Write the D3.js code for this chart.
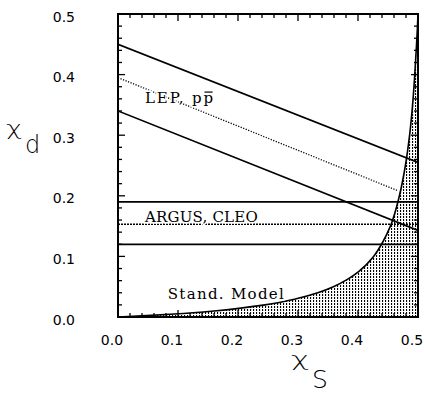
<!DOCTYPE html>
<html>
<head>
<meta charset="utf-8">
<script src="https://cdn.jsdelivr.net/npm/d3@7/dist/d3.min.js"></script>
<style>
  html, body { margin: 0; padding: 0; background: #fff; }
  svg { display: block; }
</style>
</head>
<body>
<svg id="chart" width="424" height="396"></svg>
<script>
// ---- data ----
const xTickValues = [0, 0.1, 0.2, 0.3, 0.4, 0.5];
const xTickLabels = ["0.0", "0.1", "0.2", "0.3", "0.4", "0.5"];
const yTickValues = [0, 0.1, 0.2, 0.3, 0.4, 0.5];
const yTickLabels = ["0.0", "0.1", "0.2", "0.3", "0.4", "0.5"];

// LEP, p pbar band (lines chi_d vs chi_s): start at chi_s=0, end points
const lepStartY = [0.45, 0.395, 0.34];
const lepEndX   = [0.5, 0.465, 0.5];
const lepEndY   = [0.255, 0.209, 0.143];
const lepDashed = [false, true, false];

// ARGUS, CLEO horizontal band
const argusY      = [0.19, 0.153, 0.12];
const argusDashed = [false, true, false];

// Standard Model curve
const smChiS = [0, 0.032, 0.094, 0.160, 0.245, 0.297, 0.333, 0.359, 0.383, 0.401, 0.426, 0.442, 0.454, 0.469, 0.479, 0.486, 0.491, 0.4946, 0.4976, 0.4989, 0.5];
const smChiD = [0, 0.0015, 0.005, 0.01, 0.02, 0.03, 0.04, 0.05, 0.0625, 0.075, 0.1, 0.125, 0.15, 0.2, 0.25, 0.3, 0.35, 0.4, 0.45, 0.475, 0.5];

// annotation texts and the data point where each starts
const annTexts = ["LEP, pp", "ARGUS, CLEO", "Stand. Model"];
const annChiS  = [0.045, 0.045, 0.083];
const annChiD  = [0.353, 0.157, 0.030];

// ---- layout ----
const svg = d3.select("#chart");
const L = 118, R = 418, T = 14, B = 317;
const x = d3.scaleLinear().domain([0, 0.5]).range([L, R]);
const y = d3.scaleLinear().domain([0, 0.5]).range([B, T]);

const defs = svg.append("defs");
const pat = defs.append("pattern").attr("id", "stip")
  .attr("patternUnits", "userSpaceOnUse").attr("width", 3).attr("height", 3);
pat.append("rect").attr("x", 1).attr("y", 0).attr("width", 1.1).attr("height", 2).attr("fill", "#000");

const clip = defs.append("clipPath").attr("id", "plotclip");
clip.append("rect").attr("x", L).attr("y", T).attr("width", R - L).attr("height", B - T);

const smPts = smChiS.map((s, i) => [s, smChiD[i]]);
const smLine = d3.line().x(d => x(d[0])).y(d => y(d[1])).curve(d3.curveMonotoneY);

// shaded region (right of SM curve)
svg.append("path")
  .attr("d", smLine(smPts) + `L${x(0.5)},${y(0)}L${x(0)},${y(0)}Z`)
  .attr("fill", "url(#stip)")
  .attr("clip-path", "url(#plotclip)");

const g = svg.append("g").attr("clip-path", "url(#plotclip)");

// SM curve
g.append("path")
  .attr("d", smLine(smPts))
  .attr("fill", "none").attr("stroke", "#000").attr("stroke-width", 1.6);

// LEP lines
lepStartY.forEach((y0, i) => {
  g.append("line")
    .attr("x1", x(0)).attr("y1", y(y0))
    .attr("x2", x(lepEndX[i])).attr("y2", y(lepEndY[i]))
    .attr("stroke", "#000")
    .attr("stroke-width", lepDashed[i] ? 1.3 : 1.7)
    .attr("stroke-dasharray", lepDashed[i] ? "1.2,1.5" : null);
});

// ARGUS lines
argusY.forEach((v, i) => {
  g.append("line")
    .attr("x1", x(0)).attr("y1", y(v))
    .attr("x2", x(0.5)).attr("y2", y(v))
    .attr("stroke", "#000")
    .attr("stroke-width", argusDashed[i] ? 1.4 : 1.7)
    .attr("stroke-dasharray", argusDashed[i] ? "2,1" : null);
});

// frame
svg.append("rect").attr("x", L).attr("y", T).attr("width", R - L).attr("height", B - T)
  .attr("fill", "none").attr("stroke", "#000").attr("stroke-width", 2);

// ticks (inward, all four sides)
const minor = d3.range(0, 0.5001, 0.02);
const ticksG = svg.append("g").attr("stroke", "#000").attr("stroke-width", 1.3);
minor.forEach(v => {
  const major = Math.abs(Math.round(v * 10) - v * 10) < 1e-6;
  const len = major ? 7 : 4;
  ticksG.append("line").attr("x1", x(v)).attr("x2", x(v)).attr("y1", B).attr("y2", B - len);
  ticksG.append("line").attr("x1", x(v)).attr("x2", x(v)).attr("y1", T).attr("y2", T + len);
  ticksG.append("line").attr("y1", y(v)).attr("y2", y(v)).attr("x1", L).attr("x2", L + len);
  ticksG.append("line").attr("y1", y(v)).attr("y2", y(v)).attr("x1", R).attr("x2", R - len);
});

// tick labels
const tickFont = "'DejaVu Sans', sans-serif";
xTickValues.forEach((v, i) => {
  svg.append("text").attr("x", x(v) - 6).attr("y", 345)
    .attr("text-anchor", "middle").attr("font-family", tickFont).attr("font-size", 14)
    .attr("fill", "#000").text(xTickLabels[i]);
});
yTickValues.forEach((v, i) => {
  svg.append("text").attr("x", 75).attr("y", y(v) + 7.5)
    .attr("text-anchor", "end").attr("font-family", tickFont).attr("font-size", 14)
    .attr("fill", "#000").text(yTickLabels[i]);
});

// in-plot labels
const labFont = "'DejaVu Serif', serif";
const spacing = [1.9, 0.2, 1.3];
annTexts.forEach((txt, i) => {
  const t = svg.append("text").attr("x", x(annChiS[i])).attr("y", y(annChiD[i]))
    .attr("font-family", labFont).attr("font-size", 15).attr("fill", "#000")
    .attr("letter-spacing", spacing[i])
    .attr("stroke", "#fff").attr("stroke-width", 3).attr("paint-order", "stroke")
    .text(txt);
  if (i === 0) {
    // overline on the last "p" (p-bar)
    const n = txt.length - 1;
    const ext = t.node().getExtentOfChar(n);
    svg.append("line")
      .attr("x1", ext.x + 1).attr("x2", ext.x + ext.width - spacing[i] - 0.5)
      .attr("y1", y(annChiD[i]) - 11).attr("y2", y(annChiD[i]) - 11)
      .attr("stroke", "#000").attr("stroke-width", 1.2);
  }
});

// axis titles (chi drawn wide, as in the reference)
const titleFont = "'DejaVu Sans', sans-serif";
svg.append("text").attr("transform", "translate(6,135) scale(1.45,1)")
  .attr("font-family", titleFont).attr("font-weight", 200).attr("font-size", 19)
  .attr("fill", "#000").text("χ");
svg.append("text").attr("x", 25).attr("y", 153)
  .attr("font-family", titleFont).attr("font-weight", 200).attr("font-size", 24)
  .attr("fill", "#000").text("d");

svg.append("text").attr("transform", "translate(291,366) scale(1.55,1)")
  .attr("font-family", titleFont).attr("font-weight", 200).attr("font-size", 20)
  .attr("fill", "#000").text("χ");
svg.append("text").attr("x", 312).attr("y", 388)
  .attr("font-family", titleFont).attr("font-weight", 200).attr("font-size", 25)
  .attr("fill", "#000").text("S");
</script>
</body>
</html>
